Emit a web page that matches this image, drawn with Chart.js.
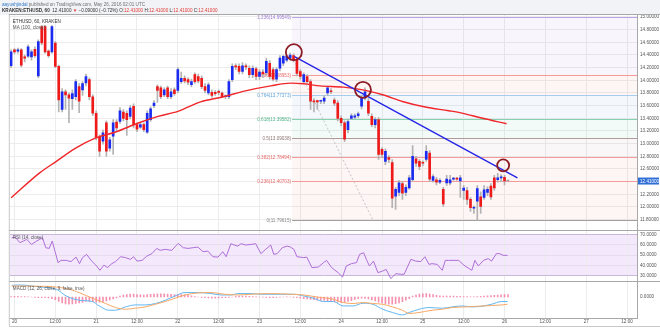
<!DOCTYPE html>
<html>
<head>
<meta charset="utf-8">
<script src="https://cdn.jsdelivr.net/npm/chart.js@4.4.1/dist/chart.umd.min.js"></script>
<style>
  html, body { margin: 0; padding: 0; background: #fff; }
  #wrap { width: 660px; height: 328px; position: relative; }
</style>
</head>
<body>
<div id="wrap"><canvas id="chart" width="660" height="328"></canvas></div>
<script>
// hourly candles, hour 0 = May 20 00:00
const firstHour = -1;
const opens = [14.23,14.48,14.46,14.48,14.37,14.38,14.37,14.49,14.07,14.85,
  14.85,14.46,14.45,14.59,14.22,13.54,13.82,13.77,13.71,13.74,
  13.90,13.85,13.96,14.01,13.74,13.48,13.10,13.04,13.33,12.93,
  13.12,13.34,13.35,13.50,13.48,13.43,13.59,13.30,13.26,13.30,
  13.18,13.38,13.60,13.90,13.88,13.77,13.88,13.74,13.85,13.84,
  13.98,14.03,14.01,13.93,14.09,14.06,14.03,13.90,13.80,13.81,
  13.81,13.82,13.80,13.74,13.74,14.01,14.23,14.22,14.14,14.23,
  14.19,14.09,14.18,14.06,14.13,14.12,14.27,14.17,14.02,14.19,
  14.27,14.32,14.35,14.39,14.32,14.14,13.98,14.06,13.98,13.67,
  13.68,13.67,13.67,13.80,13.83,13.69,13.64,13.40,13.33,13.22,
  13.40,13.42,13.44,13.59,13.72,13.67,13.43,13.30,13.38,12.91,
  12.72,12.78,12.70,12.17,12.23,12.37,12.23,12.30,12.43,12.76,
  12.72,12.70,12.75,12.85,12.42,12.43,12.39,12.28,12.38,12.38,
  12.44,12.45,12.41,12.26,12.26,12.12,11.98,12.09,12.16,12.15,
  12.23,12.33,12.46,12.43,12.46,12.47,12.41];
const highs = [14.48,14.50,14.51,14.50,14.40,14.56,14.48,14.53,14.64,14.87,
  14.87,14.48,14.87,14.61,14.24,13.87,13.85,13.80,13.85,14.01,
  13.95,13.98,14.10,14.04,13.77,13.52,13.14,13.22,13.36,13.10,
  13.38,13.38,13.57,13.54,13.52,13.60,13.63,13.33,13.33,13.33,
  13.52,13.58,13.68,13.93,13.91,13.88,13.91,13.87,13.88,14.20,
  14.13,14.07,14.04,14.02,14.12,14.10,14.07,13.95,13.96,13.85,
  13.84,13.85,13.82,13.77,14.01,14.26,14.26,14.26,14.28,14.26,
  14.23,14.23,14.21,14.17,14.17,14.35,14.31,14.20,14.20,14.39,
  14.40,14.40,14.43,14.42,14.35,14.17,14.12,14.09,14.01,13.71,
  13.69,13.69,13.76,13.91,13.87,13.72,13.68,13.44,13.36,13.39,
  13.47,13.47,13.50,13.76,13.88,13.71,13.47,13.41,13.41,12.94,
  12.92,12.81,12.75,12.31,12.42,12.40,12.35,12.50,12.97,12.80,
  12.75,12.73,12.97,12.89,12.51,12.47,12.45,12.31,12.50,12.50,
  12.47,12.47,12.50,12.34,12.31,12.15,12.02,12.34,12.24,12.34,
  12.32,12.37,12.50,12.53,12.51,12.50,12.41];
const lows = [14.20,14.42,14.43,14.21,14.29,14.36,14.32,14.36,14.04,14.56,
  14.43,14.36,14.43,14.20,13.50,13.50,13.54,13.33,13.54,13.69,
  13.49,13.76,13.91,13.69,13.44,13.06,12.80,12.99,12.80,12.88,
  12.83,13.20,13.32,13.36,13.13,13.39,13.25,13.19,13.24,13.19,
  13.16,13.35,13.57,13.65,13.71,13.74,13.71,13.71,13.76,13.80,
  13.95,13.96,13.93,13.90,13.95,13.96,13.87,13.80,13.77,13.73,
  13.76,13.77,13.73,13.71,13.71,13.98,14.17,14.10,14.10,14.17,
  14.04,14.04,14.01,14.01,14.04,14.07,14.02,13.99,13.98,14.15,
  14.23,14.29,14.32,14.29,14.07,14.02,13.95,13.95,13.54,13.50,
  13.54,13.63,13.63,13.76,13.79,13.60,13.36,13.28,13.03,13.17,
  13.38,13.39,13.41,13.55,13.69,13.44,13.27,13.25,12.75,12.78,
  12.67,12.70,11.99,11.96,12.18,12.12,12.18,12.28,12.40,12.64,
  12.59,12.65,12.72,12.40,12.39,12.35,12.37,12.01,12.34,12.35,
  12.42,12.42,12.15,12.12,12.04,11.93,11.90,11.79,11.90,12.12,
  12.18,12.12,12.26,12.39,12.40,12.35,12.41];
const closes = [14.45,14.45,14.48,14.24,14.35,14.53,14.45,14.39,14.61,14.59,
  14.45,14.39,14.85,14.22,13.69,13.82,13.77,13.72,13.79,13.98,
  13.67,13.95,14.06,13.74,13.48,13.10,12.88,13.17,12.88,13.06,
  13.33,13.25,13.52,13.40,13.38,13.56,13.30,13.23,13.30,13.22,
  13.48,13.55,13.64,13.84,13.74,13.85,13.74,13.82,13.79,14.17,
  14.03,13.99,13.97,13.98,13.98,13.99,13.90,13.84,13.93,13.76,
  13.79,13.81,13.74,13.74,13.98,14.22,14.21,14.14,14.23,14.21,
  14.09,14.19,14.06,14.13,14.10,14.30,14.06,14.02,14.17,14.35,
  14.38,14.38,14.40,14.32,14.11,14.06,14.09,13.98,13.67,13.66,
  13.66,13.67,13.72,13.88,13.82,13.64,13.40,13.33,13.07,13.35,
  13.44,13.44,13.47,13.72,13.82,13.48,13.30,13.38,12.83,12.83,
  12.88,12.75,12.14,12.28,12.38,12.22,12.31,12.46,12.80,12.69,
  12.64,12.69,12.88,12.44,12.48,12.39,12.42,12.05,12.44,12.43,
  12.44,12.44,12.46,12.30,12.12,11.99,11.99,12.29,12.01,12.27,
  12.28,12.16,12.30,12.46,12.47,12.41,12.41];

// MA (100, close)
const maHours = [-1.0, 7.4, 12.3, 18.1, 23.9, 29.7, 36.4, 42.2, 48.0, 54.7, 61.7, 67.5, 75.3,
  81.1, 85.0, 89.8, 96.6, 102.4, 108.2, 114.0, 120.7, 127.6, 131.5, 137.3, 144.6];
const maValues = [12.145, 12.539, 12.721, 12.932, 13.090, 13.184, 13.326, 13.430, 13.509, 13.66, 13.745, 13.83, 13.913,
  13.956, 13.945, 13.913, 13.893, 13.850, 13.772, 13.666, 13.578, 13.520, 13.483, 13.405, 13.315];

// fibonacci retracement
const fibLevels = [0, 0.236, 0.382, 0.5, 0.618, 0.764, 0.886, 1.236];
const fibLow = 11.79615;
const fibRange = 2.58846;
const fibStartHour = 81.5;
const fibEndHour = 105.3;

// trend line and marked touches
const trendHours = [82.3, 147.8];
const trendPrices = [14.375, 12.46];
const markHours = [82.1, 102.4, 143.6];
const markPrices = [14.444, 13.850, 12.658];

// RSI (14, close)
const rsiHours = [-0.8, 0.2, 1.6, 2.6, 3.6, 5.0, 6.5, 7.4, 8.2, 9.2, 10.2, 11.1, 12.8, 13.7, 15.2, 16.6, 18.1,
  19.1, 20.0, 21.2, 22.5, 23.9, 25.1, 26.3, 27.3, 28.6, 29.7, 31.2, 32.6, 34.1, 35.0, 36.0, 37.5, 38.9,
  40.4, 41.8, 42.8, 44.3, 46.2, 48.1, 49.6, 51.0, 52.5, 53.9, 55.4, 56.8, 58.3, 59.8, 61.2, 62.2, 63.6,
  64.6, 65.6, 66.6, 68.0, 69.5, 70.9, 72.4, 73.8, 75.3, 76.2, 77.2, 78.7, 80.1, 81.1, 82.1, 83.0, 85.0,
  85.9, 87.4, 89.3, 90.8, 91.7, 93.2, 95.1, 96.4, 97.5, 99.0, 100.5, 101.4, 102.6, 103.4, 104.3, 105.5,
  106.8, 108.2, 109.2, 110.6, 112.1, 113.5, 114.5, 116.5, 117.9, 119.4, 120.6, 121.8, 122.7, 124.2,
  125.7, 126.6, 127.6, 130.5, 132.4, 134.4, 135.3, 136.3, 137.8, 139.2, 140.2, 141.6, 142.6, 143.6, 144.9];
const rsiValues = [67.1, 67.7, 62.2, 63.8, 65.4, 60.5, 63.8, 65.4, 67.1, 57.3, 56.6, 63.8, 42.7, 44.9, 44.9, 43.7, 48.1,
  41.7, 47.6, 50.8, 44.9, 40.3, 35.2, 40.3, 37.8, 41.7, 43.7, 48.5, 47.6, 45.9, 48.5, 44.2, 44.9, 49.1,
  51.5, 56.6, 54.7, 55.7, 54.7, 61.5, 57.3, 56.6, 57.3, 57.9, 53.4, 54.0, 48.5, 48.1, 53.4, 48.5, 61.2,
  59.9, 58.9, 61.2, 59.9, 60.5, 61.2, 51.5, 55.7, 59.9, 50.8, 51.5, 57.3, 58.9, 57.9, 55.7, 48.5, 47.6,
  48.1, 37.8, 38.4, 42.7, 44.9, 37.8, 32.9, 28.6, 39.4, 41.7, 42.7, 50.8, 52.4, 45.9, 39.4, 44.2,
  32.9, 34.5, 36.1, 27.1, 31.9, 31.3, 31.3, 45.9, 44.2, 43.7, 48.5, 41.0, 41.7, 41.0,
  35.2, 44.9, 44.9, 44.9, 39.4, 35.2, 44.9, 39.4, 44.9, 46.6, 44.2, 51.5, 51.5, 49.8, 49.8];
const rsiBand = [30, 70];

// MACD (12, 26, close, 9)
const macdHours = [-0.8, 1.6, 7.4, 12.3, 15.2, 19.1, 22.9, 24.9, 27.8, 29.7, 32.6, 35.5, 38.4, 41.4, 44.3,
  47.2, 50.1, 53.9, 57.8, 60.7, 63.7, 65.6, 69.5, 72.4, 78.2, 82.1, 85.0, 87.9, 90.8, 93.7, 96.6, 99.5,
  102.4, 105.3, 108.2, 111.1, 114.0, 116.0, 118.9, 121.8, 125.7, 128.6, 131.5, 134.4, 137.3, 140.2, 143.1, 144.9];
const macdValues = [0.058, 0.060, 0.050, 0.0385, 0.005, -0.0165, -0.023, -0.045, -0.0665, -0.0665, -0.050, -0.040,
  -0.040, -0.033, -0.0165, 0.005, 0.022, 0.022, 0.017, 0.010, 0.010, 0.017, 0.017, 0.0135, 0.0135, 0.0135, 0.005,
  -0.0065, -0.023, -0.023, -0.045, -0.045, -0.0315, -0.0365, -0.0615, -0.078, -0.090, -0.078, -0.0615, -0.053,
  -0.0565, -0.050, -0.045, -0.050, -0.0465, -0.0365, -0.023, -0.023];
const signalHours = [-0.8, 7.4, 12.3, 17.1, 22.0, 26.8, 29.7, 32.6, 35.5, 38.4, 41.4, 44.3, 47.2, 50.1, 53.9,
  57.8, 61.7, 65.6, 69.5, 75.3, 81.1, 85.0, 88.8, 93.7, 96.6, 99.5, 102.4, 105.3, 108.2, 111.1, 114.0, 116.0,
  118.9, 122.7, 125.7, 128.6, 132.4, 136.3, 140.2, 143.1, 144.9];
const signalValues = [0.055, 0.0535, 0.050, 0.0335, 0.0, -0.033, -0.053, -0.0615, -0.0565, -0.050, -0.0365, -0.023,
  -0.0065, 0.010, 0.020, 0.022, 0.0135, 0.010, 0.0135, 0.017, 0.0135, 0.010, 0.0, -0.0115, -0.028, -0.033, -0.028,
  -0.033, -0.0365, -0.050, -0.0665, -0.083, -0.078, -0.0665, -0.0615, -0.053, -0.050, -0.0465, -0.043, -0.040, -0.0365];
const histValues = [0.002, 0.003, 0.003, 0.002, 0.002, 0.001, 0.0,
  -0.002, -0.003, -0.004, -0.004, -0.005,
  -0.008, -0.014, -0.022, -0.03,
  -0.035, -0.036, -0.035, -0.033, -0.030, -0.028,
  -0.022, -0.022, -0.024, -0.026, -0.026, -0.024,
  -0.02, -0.015, -0.01, -0.005, 0.004,
  0.010, 0.012, 0.014, 0.014, 0.012, 0.011, 0.010,
  0.012, 0.013, 0.015, 0.016, 0.016, 0.016, 0.015, 0.013,
  0.012, 0.013, 0.012, 0.011, 0.008, 0.006,
  0.002, 0.0, -0.002, -0.004, -0.005, -0.006,
  -0.006, -0.005, -0.004, -0.003, -0.002, 0.0,
  0.003, 0.004, 0.005, 0.004, 0.003, 0.002, 0.001, 0.0,
  -0.001, -0.002, -0.003, -0.003, -0.002, -0.001, 0.0, 0.001,
  0.0, -0.002, -0.004, -0.006, -0.008, -0.01,
  -0.012, -0.014, -0.016, -0.017, -0.017, -0.018,
  -0.02, -0.024, -0.026, -0.028, -0.026, -0.022, -0.018,
  -0.012, -0.008, -0.006, -0.007, -0.01,
  -0.015, -0.02, -0.026, -0.03, -0.034, -0.036, -0.036, -0.034, -0.03, -0.024, -0.016, -0.008,
  0.004, 0.01, 0.014, 0.016, 0.017, 0.015, 0.012,
  0.008, 0.006, 0.005, 0.004, 0.004,
  0.004, 0.003, 0.003, 0.002, 0.002, 0.001,
  0.001, 0.002, 0.003, 0.004, 0.006, 0.007,
  0.008, 0.010, 0.011, 0.012, 0.012];

// axis ticks
const dayLabels = ['20', '21', '22', '23', '24', '25', '26', '27'];
const halfDayLabel = '12:00';
const priceTicks = [11.8, 12.0, 12.2, 12.4, 12.6, 12.8, 13.0, 13.2, 13.4, 13.6, 13.8, 14.0, 14.2, 14.4, 14.6, 14.8, 15.0];
const rsiTicks = [30, 40, 50, 60, 70];
const macdTicks = [0];

const FONT = "'Liberation Sans', Arial, sans-serif";
const UP = '#1b2cf0';
const DOWN = '#ee1a1a';
const fibLine = ['#a0a0a0', '#f59a9a', '#f59a9a', '#b09a9a', '#86d2ae', '#a6cdec', '#f59a9a', '#bba2e4'];
const fibText = ['#8a8a8a', '#e86a6a', '#e86a6a', '#8d7474', '#4fb489', '#5a9fd8', '#e86a6a', '#9a78d6'];
const fibFill = ['', 'rgba(245,120,120,0.07)', 'rgba(245,120,120,0.07)', 'rgba(160,120,120,0.06)',
  'rgba(90,200,150,0.07)', 'rgba(110,170,230,0.08)', 'rgba(245,120,120,0.07)', 'rgba(150,120,225,0.07)'];

const hours = opens.map((_, i) => firstHour + i);
const lastIdx = closes.length - 1;
const bodyColors = opens.map((o, i) => {
  if (i === lastIdx && o === closes[i]) return '#9a9a9a';
  return closes[i] >= o ? UP : DOWN;
});
const timeTicks = [];
dayLabels.forEach((d, k) => { timeTicks.push(k * 24, k * 24 + 12); });

function pts(xs, ys) { return xs.map((x, i) => ({ x, y: ys[i] })); }

function drawRuns(ctx, x, y, runs) {
  runs.forEach(([text, color, weight]) => {
    ctx.font = (weight || '') + ' 4.6px ' + FONT;
    ctx.fillStyle = color;
    ctx.fillText(text, x, y);
    x += ctx.measureText(text).width;
  });
}

const overlays = {
  id: 'overlays',
  beforeDraw(chart) {
    const { ctx, width } = chart;
    const a = chart.chartArea;
    const r = chart.scales.yRsi;
    ctx.save();
    ctx.fillStyle = '#ffffff';
    ctx.fillRect(0, 0, width, chart.height);
    ctx.fillStyle = '#f1f3f6';
    ctx.fillRect(0, 0, width, a.top);
    const top = r.getPixelForValue(rsiBand[1]);
    const bottom = r.getPixelForValue(rsiBand[0]);
    ctx.fillStyle = '#f4e8fc';
    ctx.fillRect(a.left, top, a.right - a.left, bottom - top);
    ctx.restore();
  },
  beforeDatasetsDraw(chart) {
    const { ctx } = chart;
    const a = chart.chartArea;
    const y = chart.scales.y;
    const x0 = Math.round(chart.scales.x.getPixelForValue(fibStartHour));
    const prices = fibLevels.map(l => fibLow + l * fibRange);
    ctx.save();
    for (let k = 1; k < prices.length; k++) {
      const yLo = y.getPixelForValue(prices[k - 1]);
      const yHi = y.getPixelForValue(prices[k]);
      ctx.fillStyle = fibFill[k];
      ctx.fillRect(x0, yHi, a.right - x0, yLo - yHi);
    }
    ctx.lineWidth = 1;
    ctx.font = '4.6px ' + FONT;
    ctx.textAlign = 'right';
    ctx.textBaseline = 'middle';
    prices.forEach((p, k) => {
      const py = Math.round(y.getPixelForValue(p)) + 0.5;
      ctx.strokeStyle = fibLine[k];
      ctx.beginPath();
      ctx.moveTo(x0, py);
      ctx.lineTo(a.right, py);
      ctx.stroke();
      ctx.fillStyle = fibText[k];
      ctx.fillText(fibLevels[k] + '(' + p.toFixed(5) + ')', x0 - 1, py);
    });
    ctx.restore();
  },
  afterDraw(chart) {
    const { ctx, width, height } = chart;
    const a = chart.chartArea;
    const r = chart.scales.yRsi;
    const m = chart.scales.yMacd;
    const y = chart.scales.y;
    ctx.save();
    // panel separators and frame
    ctx.strokeStyle = '#a8a8a8';
    ctx.lineWidth = 1;
    [a.top, r.top, m.top].forEach(v => {
      const py = Math.round(v) - 0.5;
      ctx.beginPath();
      ctx.moveTo(a.left - 1, py);
      ctx.lineTo(width, py);
      ctx.stroke();
    });
    ctx.strokeStyle = '#c8c8c8';
    ctx.beginPath();
    ctx.moveTo(a.left - 0.5, a.top);
    ctx.lineTo(a.left - 0.5, height - 1.5);
    ctx.lineTo(width, height - 1.5);
    ctx.stroke();

    // header
    ctx.textBaseline = 'middle';
    ctx.textAlign = 'left';
    drawRuns(ctx, 2, 4.5, [['aayushjindal', '#2f78c8'], [' published on TradingView.com, May 26, 2016 02:01 UTC', '#6f6f6f']]);
    const last = closes[lastIdx].toFixed(5);
    const red = '#e53935';
    drawRuns(ctx, 2, 10.8, [
      ['KRAKEN:ETHUSD, 60', '#333', 'bold'], ['  ' + last + ' ', '#333'], ['\u25BC', red],
      [' \u22120.09000 (\u22120.72%) ', '#333'],
      ['O:', '#333'], [opens[lastIdx].toFixed(5), red], [' H:', '#333'], [highs[lastIdx].toFixed(5), red],
      [' L:', '#333'], [lows[lastIdx].toFixed(5), red], [' C:', '#333'], [last, red]
    ]);

    // panel captions
    drawRuns(ctx, a.left + 3, a.top + 6.5, [['ETHUSD, 60, KRAKEN', '#333']]);
    drawRuns(ctx, a.left + 3, a.top + 13, [['MA (100, close)', '#555']]);
    drawRuns(ctx, a.left + 3, r.top + 6, [['RSI (14, close)', '#555']]);
    drawRuns(ctx, a.left + 3, m.top + 6, [['MACD (12, 26, close, 9, false, true)', '#555']]);

    // last price tag on the axis
    const py = y.getPixelForValue(closes[lastIdx]);
    ctx.fillStyle = '#2f6fd6';
    ctx.fillRect(a.right + 1, py - 3.5, width - a.right - 2, 7);
    ctx.font = '4.6px ' + FONT;
    ctx.fillStyle = '#ffffff';
    ctx.fillText(last, a.right + 3, py + 0.3);
    ctx.restore();
  }
};

const tickFont = { family: FONT, size: 4.6 };
const rightAxis = (extra) => Object.assign({
  position: 'right',
  stack: 'panels',
  border: { display: true, color: '#a8a8a8' },
  grid: { color: '#ececec', drawTicks: false },
  afterFit: (s) => { s.width = 23; }
}, extra);
const axisTicks = (fmt) => ({
  font: tickFont, color: '#555', padding: 3, autoSkip: false, callback: (v) => v.toFixed(fmt)
});

new Chart(document.getElementById('chart'), {
  type: 'bar',
  data: {
    datasets: [
      {
        type: 'line', label: 'fib trend', yAxisID: 'y', order: 9,
        data: pts([fibStartHour, fibEndHour], [fibLow + fibRange, fibLow]),
        borderColor: '#b5b5b5', borderWidth: 0.8, borderDash: [2, 2], pointRadius: 0
      },
      {
        type: 'bar', label: 'wicks', yAxisID: 'y', order: 8, grouped: false,
        data: hours.map((h, i) => ({ x: h, y: [lows[i], highs[i]] })),
        backgroundColor: '#b3b3b3', barThickness: 1
      },
      {
        type: 'bar', label: 'bodies', yAxisID: 'y', order: 7, grouped: false,
        data: hours.map((h, i) => ({ x: h, y: [opens[i], closes[i]] })),
        backgroundColor: bodyColors, barThickness: 2, minBarLength: 1
      },
      {
        type: 'line', label: 'MA', yAxisID: 'y', order: 6,
        data: pts(maHours, maValues), cubicInterpolationMode: 'monotone',
        borderColor: '#f0262a', borderWidth: 1.4, pointRadius: 0
      },
      {
        type: 'line', label: 'trend', yAxisID: 'y', order: 5,
        data: pts(trendHours, trendPrices),
        borderColor: '#2323e6', borderWidth: 1.3, pointRadius: 0
      },
      {
        type: 'line', label: 'marks', yAxisID: 'y', order: 4, showLine: false,
        data: pts(markHours, markPrices),
        pointRadius: [8, 8, 6], pointBorderColor: '#8c1c24', pointBorderWidth: 1.8,
        pointBackgroundColor: 'rgba(0,0,0,0)'
      },
      {
        type: 'line', label: 'RSI', yAxisID: 'yRsi', order: 3,
        data: pts(rsiHours, rsiValues),
        borderColor: '#ae6fd8', borderWidth: 1, pointRadius: 0
      },
      {
        type: 'bar', label: 'hist', yAxisID: 'yMacd', order: 3, grouped: false,
        data: hours.map((h, i) => ({ x: h, y: histValues[i] })),
        backgroundColor: 'rgba(242,110,150,0.75)', barThickness: 1
      },
      {
        type: 'line', label: 'MACD', yAxisID: 'yMacd', order: 2,
        data: pts(macdHours, macdValues), cubicInterpolationMode: 'monotone',
        borderColor: '#62b8f2', borderWidth: 1, pointRadius: 0
      },
      {
        type: 'line', label: 'signal', yAxisID: 'yMacd', order: 1,
        data: pts(signalHours, signalValues), cubicInterpolationMode: 'monotone',
        borderColor: '#f8a866', borderWidth: 1, pointRadius: 0
      }
    ]
  },
  options: {
    responsive: false,
    devicePixelRatio: 1,
    animation: false,
    events: [],
    layout: { padding: { left: 3, top: 15, right: 0, bottom: 0 } },
    plugins: { legend: { display: false }, tooltip: { enabled: false } },
    scales: {
      x: {
        type: 'linear', position: 'bottom', offset: false,
        min: -1.378, max: 182.93,
        border: { display: true, color: '#a8a8a8' },
        grid: { color: '#ececec', drawTicks: false, offset: false },
        ticks: {
          font: tickFont, color: '#555', padding: 1, maxRotation: 0, autoSkip: false,
          callback: (v) => (v % 24 === 0 ? dayLabels[v / 24] : halfDayLabel)
        },
        afterBuildTicks: (s) => { s.ticks = timeTicks.map(v => ({ value: v })); },
        afterFit: (s) => { s.height = 9; }
      },
      y: rightAxis({
        stackWeight: 217, min: 11.6142, max: 15.0315,
        afterBuildTicks: (s) => { s.ticks = priceTicks.map(v => ({ value: v })); },
        ticks: axisTicks(5)
      }),
      yRsi: rightAxis({
        stackWeight: 51, min: 23.46, max: 73.22,
        grid: {
          drawTicks: false,
          color: (c) => (c.tick && (c.tick.value === 30 || c.tick.value === 70) ? '#c9b8d6' : '#e6dcee')
        },
        afterBuildTicks: (s) => { s.ticks = rsiTicks.map(v => ({ value: v })); },
        ticks: axisTicks(4)
      }),
      yMacd: rightAxis({
        stackWeight: 36, min: -0.1065, max: 0.0735,
        grid: { display: false, drawTicks: false },
        afterBuildTicks: (s) => { s.ticks = macdTicks.map(v => ({ value: v })); },
        ticks: axisTicks(4)
      })
    }
  },
  plugins: [overlays]
});
</script>
</body>
</html>
